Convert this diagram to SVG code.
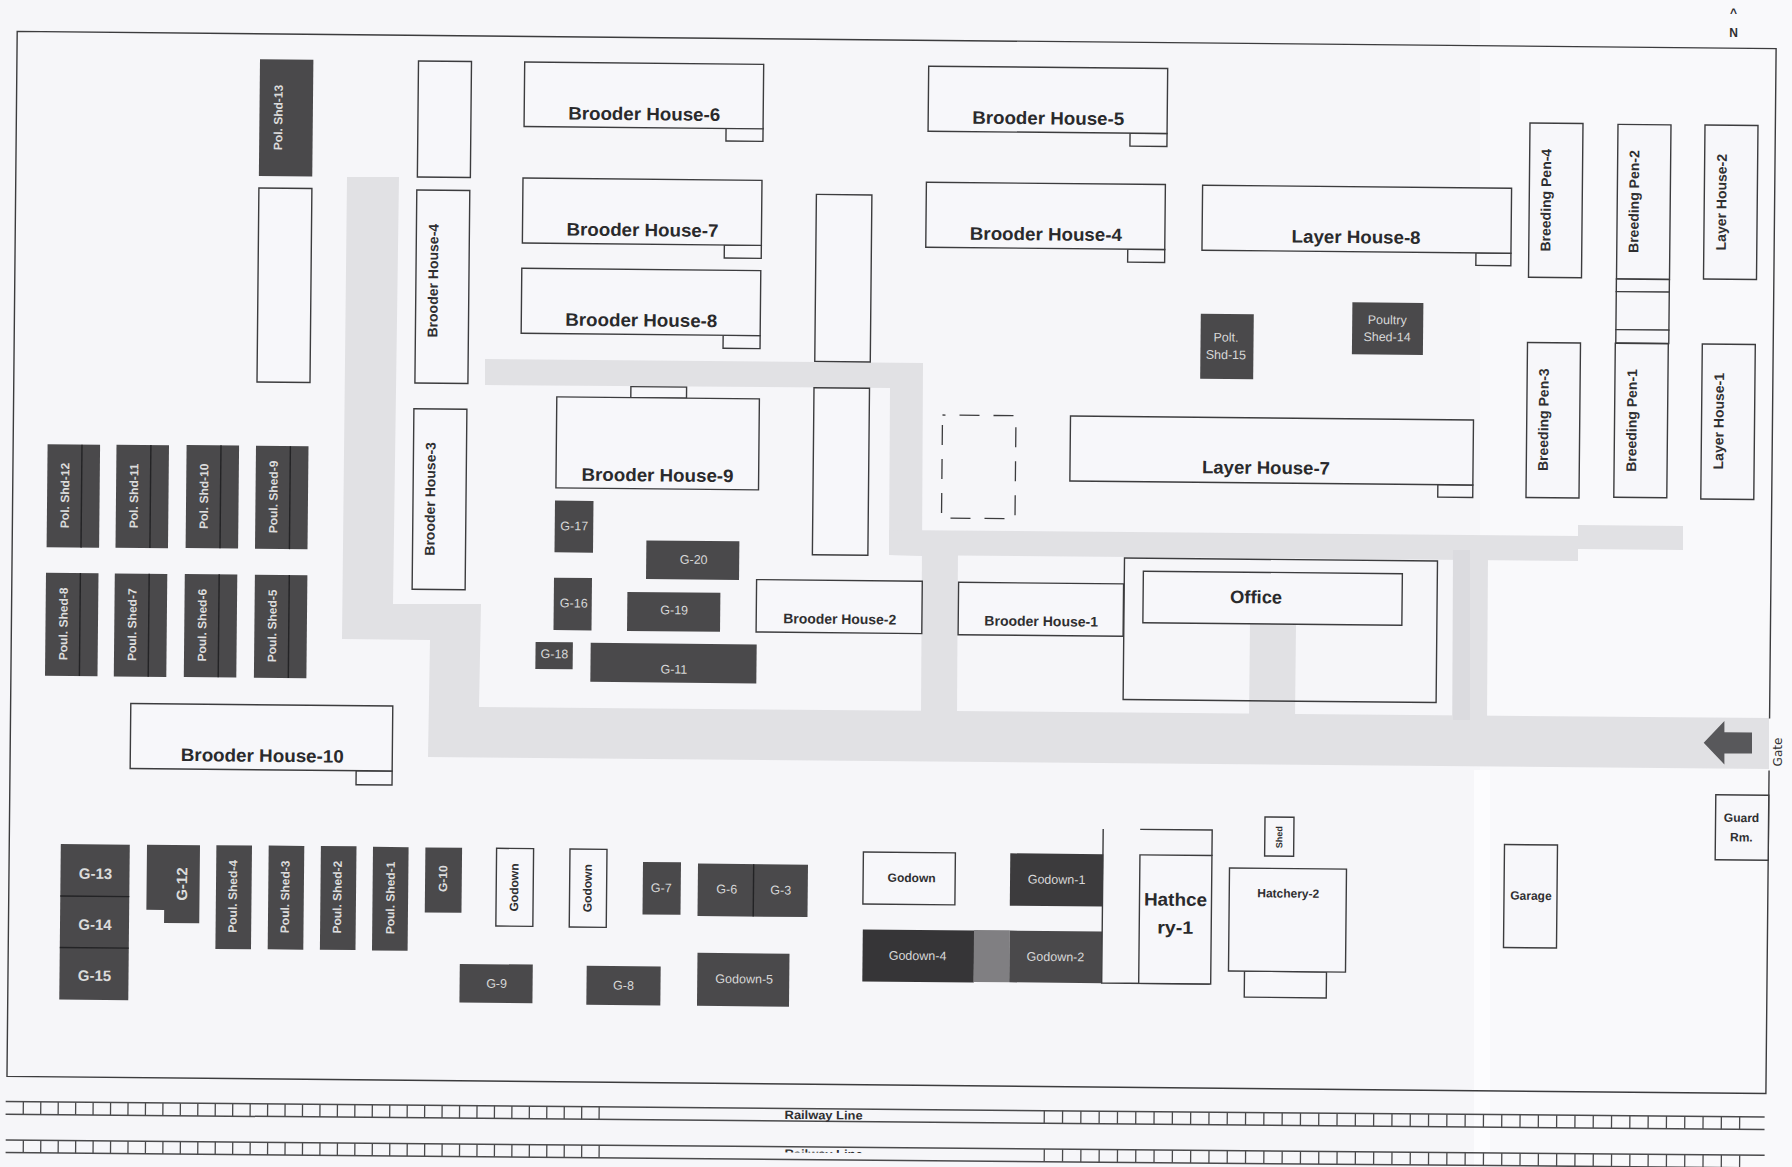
<svg xmlns="http://www.w3.org/2000/svg" width="1792" height="1167" viewBox="0 0 1792 1167">
<style>
text{font-family:"Liberation Sans",Arial,sans-serif;text-anchor:middle;dominant-baseline:central}
.w{fill:#f7f7fa;stroke:#3c3c3e;stroke-width:1.4}
.n{fill:none;stroke:#3c3c3e;stroke-width:1.4}
.d{fill:#4a494b}
.dv{stroke:#232325;stroke-width:1.4;fill:none}
.road{fill:#e1e1e4}
.b18{font-size:18px;font-weight:700;fill:#2a2a2c}
.b14{font-size:14px;font-weight:700;fill:#2f2f31}
.b12{font-size:12px;font-weight:700;fill:#2f2f31}
.l12{font-size:12px;font-weight:700;fill:#dcdcdc}
.g12{font-size:12.5px;fill:#d8d8d8}
.g15{font-size:15px;font-weight:700;fill:#dcdcdc}
.rail{stroke:#4a4a4c;stroke-width:1.5;fill:none}
.tick{stroke:#4a4a4c;stroke-width:12.6;fill:none;stroke-dasharray:1.3 16.15}
.tick2{stroke:#4a4a4c;stroke-width:12.6;fill:none;stroke-dasharray:1.3 17}
</style>
<defs>
<clipPath id="railclip"><rect x="760" y="1" width="120" height="4.5"/></clipPath>
</defs>
<rect width="1792" height="1167" fill="#f6f6f9"/>
<rect x="1480" width="312" height="1167" fill="#f9f9fb"/>
<rect x="1474" y="770" width="16" height="397" fill="#fcfcfe"/>

<g id="roads">
<polygon class="road" points="347,177 399,177 393,604 481,604 479,707 1769,718 1769,769 428,757 430,640 342,639"/>
<polygon class="road" points="485,359 923,363 922,556 889,555 890,388 485,385"/>
<polygon class="road" points="889,530 1578,536 1578,525 1683,526 1683,550 1578,549 1578,561 889,555"/>
<polygon class="road" points="922,545 958,545 957,715 921,715"/>
<polygon class="road" points="1250,622 1296,623 1295,720 1249,720"/>
<polygon class="road" points="1453,550 1488,550 1487,722 1452,722"/>
<rect x="1453" y="550" width="17" height="170" fill="#dbdbdf"/>
</g>

<g id="site-boundary" transform="translate(17.2 31.4) rotate(.56)"><path class="n" d="M1759 670V0H0V1045H1759V722"/></g>
<g id="north"><text class="b12" x="1733.6" y="12.6">^</text><text class="b12" x="1733.6" y="33">N</text></g>

<g id="pol-shd-13" transform="translate(260 59.3) rotate(.56)"><rect class="d" width="53.4" height="116.7"/><text class="l12" transform="translate(19 58) rotate(-90)">Pol. Shd-13</text></g>
<g id="blank-1" transform="translate(258.9 188) rotate(.56)"><rect class="w" width="53" height="194"/></g>
<g id="blank-2" transform="translate(418.5 61) rotate(.56)"><rect class="w" width="53" height="116"/></g>
<g id="brooder-4v" transform="translate(416.8 190) rotate(.56)"><rect class="w" width="53" height="193"/><text class="b14" transform="translate(17 90.5) rotate(-90)">Brooder House-4</text></g>
<g id="brooder-3" transform="translate(413.9 408.7) rotate(.56)"><rect class="w" width="53" height="180.6"/><text class="b14" transform="translate(17 90) rotate(-90)">Brooder House-3</text></g>

<g id="brooder-6" transform="translate(524.7 62) rotate(.56)"><rect class="w" x="202" y="64" width="37" height="13"/><rect class="w" width="239" height="64.5"/><text class="b18" x="120" y="51" textLength="152" lengthAdjust="spacingAndGlyphs">Brooder House-6</text></g>
<g id="brooder-7" transform="translate(523 178) rotate(.56)"><rect class="w" x="202" y="65" width="37" height="13"/><rect class="w" width="239" height="65"/><text class="b18" x="120" y="51" textLength="152" lengthAdjust="spacingAndGlyphs">Brooder House-7</text></g>
<g id="brooder-8" transform="translate(521.8 268.3) rotate(.56)"><rect class="w" x="202" y="65" width="37" height="13"/><rect class="w" width="239" height="65"/><text class="b18" x="120" y="51" textLength="152" lengthAdjust="spacingAndGlyphs">Brooder House-8</text></g>
<g id="brooder-5" transform="translate(928.7 66.2) rotate(.56)"><rect class="w" x="202" y="65" width="37" height="13"/><rect class="w" width="239" height="65"/><text class="b18" x="120" y="51" textLength="152" lengthAdjust="spacingAndGlyphs">Brooder House-5</text></g>
<g id="brooder-4" transform="translate(926.4 182.2) rotate(.56)"><rect class="w" x="202" y="65" width="37" height="13"/><rect class="w" width="239" height="65"/><text class="b18" x="120" y="51" textLength="152" lengthAdjust="spacingAndGlyphs">Brooder House-4</text></g>
<g id="layer-8" transform="translate(1202.6 185.2) rotate(.56)"><rect class="w" x="274" y="65" width="35" height="12.5"/><rect class="w" width="309" height="65"/><text class="b18" x="154" y="50.5" textLength="129" lengthAdjust="spacingAndGlyphs">Layer House-8</text></g>
<g id="layer-7" transform="translate(1070.5 416) rotate(.56)"><rect class="w" x="368" y="65" width="35" height="12.5"/><rect class="w" width="403" height="65"/><text class="b18" x="196" y="50" textLength="128" lengthAdjust="spacingAndGlyphs">Layer House-7</text></g>
<g id="brooder-9" transform="translate(556.8 396.9) rotate(.56)"><rect class="w" x="74" y="-11" width="55.7" height="11"/><rect class="w" width="202.6" height="91"/><text class="b18" x="101.5" y="77.5" textLength="152" lengthAdjust="spacingAndGlyphs">Brooder House-9</text></g>
<g id="blank-3" transform="translate(816.4 194.4) rotate(.56)"><rect class="w" width="55.5" height="167"/></g>
<g id="blank-4" transform="translate(814 387.7) rotate(.56)"><rect class="w" width="55.5" height="167"/></g>

<g id="pol-shd-12" transform="translate(47.6 444.3) rotate(.56)"><rect class="d" width="52.5" height="103"/><path class="dv" d="M34.4 0V103"/><text class="l12" transform="translate(18 51) rotate(-90)">Pol. Shd-12</text></g>
<g id="pol-shd-11" transform="translate(116.5 444.7) rotate(.56)"><rect class="d" width="52.5" height="103"/><path class="dv" d="M34.4 0V103"/><text class="l12" transform="translate(18 51) rotate(-90)">Pol. Shd-11</text></g>
<g id="pol-shd-10" transform="translate(186.6 445) rotate(.56)"><rect class="d" width="52.5" height="103"/><path class="dv" d="M34.4 0V103"/><text class="l12" transform="translate(18 51) rotate(-90)">Pol. Shd-10</text></g>
<g id="poul-shed-9" transform="translate(256 445.8) rotate(.56)"><rect class="d" width="52.5" height="103"/><path class="dv" d="M34.4 0V103"/><text class="l12" transform="translate(18 51) rotate(-90)">Poul. Shed-9</text></g>
<g id="poul-shed-8" transform="translate(46 572.7) rotate(.56)"><rect class="d" width="52.5" height="103"/><path class="dv" d="M34.4 0V103"/><text class="l12" transform="translate(18 51) rotate(-90)">Poul. Shed-8</text></g>
<g id="poul-shed-7" transform="translate(114.8 573.5) rotate(.56)"><rect class="d" width="52.5" height="103"/><path class="dv" d="M34.4 0V103"/><text class="l12" transform="translate(18 51) rotate(-90)">Poul. Shed-7</text></g>
<g id="poul-shed-6" transform="translate(184.8 574) rotate(.56)"><rect class="d" width="52.5" height="103"/><path class="dv" d="M34.4 0V103"/><text class="l12" transform="translate(18 51) rotate(-90)">Poul. Shed-6</text></g>
<g id="poul-shed-5" transform="translate(254.9 574.7) rotate(.56)"><rect class="d" width="52.5" height="103"/><path class="dv" d="M34.4 0V103"/><text class="l12" transform="translate(18 51) rotate(-90)">Poul. Shed-5</text></g>

<g id="g-17" transform="translate(555 500.6) rotate(.56)"><rect class="d" width="38.5" height="51.7"/><text class="g12" x="19.5" y="25.5">G-17</text></g>
<g id="g-20" transform="translate(646.4 540.4) rotate(.56)"><rect class="d" width="93" height="38.7"/><text class="g12" x="47.5" y="19">G-20</text></g>
<g id="g-16" transform="translate(554 577.7) rotate(.56)"><rect class="d" width="38" height="52.4"/><text class="g12" x="20" y="25.5">G-16</text></g>
<g id="g-19" transform="translate(627.4 591.9) rotate(.56)"><rect class="d" width="93" height="39"/><text class="g12" x="47" y="18">G-19</text></g>
<g id="g-18" transform="translate(535.6 642) rotate(.56)"><rect class="d" width="37.3" height="27"/><text class="g12" x="19" y="12">G-18</text></g>
<g id="g-11" transform="translate(590.7 642.8) rotate(.56)"><rect class="d" width="166" height="39"/><text class="g12" x="83.5" y="26">G-11</text></g>
<g id="brooder-2" transform="translate(756.6 579.6) rotate(.56)"><rect class="w" width="165.7" height="52.4"/><text class="b14" x="83.5" y="38.5" textLength="113" lengthAdjust="spacingAndGlyphs">Brooder House-2</text></g>
<g id="brooder-1" transform="translate(958.6 582.3) rotate(.56)"><rect class="w" width="165" height="52.4"/><text class="b14" x="83" y="38" textLength="113.6" lengthAdjust="spacingAndGlyphs">Brooder House-1</text></g>
<g id="office" transform="translate(1124.5 558) rotate(.56)"><rect class="n" width="313" height="141.5"/><rect class="w" x="19" y="13" width="259" height="51.5"/><text class="b18" x="132" y="38" textLength="52" lengthAdjust="spacingAndGlyphs">Office</text></g>

<g id="polt-shd-15" transform="translate(1200.8 313.8) rotate(.56)"><rect class="d" width="53" height="65"/><text class="g12" x="25.5" y="23.5">Polt.</text><text class="g12" x="25.5" y="41">Shd-15</text></g>
<g id="poultry-shed-14" transform="translate(1352.4 302.3) rotate(.56)"><rect class="d" width="71" height="52"/><text class="g12" x="35" y="17.5">Poultry</text><text class="g12" x="35" y="34.5">Shed-14</text></g>
<g id="dashed-plot" transform="translate(942.5 415) rotate(.56)"><rect width="73.5" height="103" fill="none" stroke="#3c3c3e" stroke-width="1.3" stroke-dasharray="20 14" stroke-dashoffset="-17"/></g>

<g id="breeding-pen-4" transform="translate(1530 123) rotate(.56)"><rect class="w" width="53" height="154.2"/><text class="b14" transform="translate(16.5 77) rotate(-90)">Breeding Pen-4</text></g>
<g id="breeding-pen-3" transform="translate(1527.5 342.5) rotate(.56)"><rect class="w" width="53" height="155"/><text class="b14" transform="translate(16.5 77) rotate(-90)">Breeding Pen-3</text></g>
<g id="breeding-pen-2" transform="translate(1618 124.4) rotate(.56)"><rect class="w" width="53" height="154.6"/><text class="b14" transform="translate(16.5 77) rotate(-90)">Breeding Pen-2</text></g>
<g id="breeding-link" transform="translate(1616.4 279) rotate(.56)"><rect class="w" width="53" height="12.6"/><rect class="w" y="12.6" width="53" height="38"/><rect class="w" y="50.6" width="53" height="13.4"/></g>
<g id="breeding-pen-1" transform="translate(1615.3 343.3) rotate(.56)"><rect class="w" width="53" height="154"/><text class="b14" transform="translate(17 77) rotate(-90)">Breeding Pen-1</text></g>
<g id="layer-2" transform="translate(1705 125) rotate(.56)"><rect class="w" width="53" height="154"/><text class="b14" transform="translate(17 77) rotate(-90)">Layer House-2</text></g>
<g id="layer-1" transform="translate(1702.3 344) rotate(.56)"><rect class="w" width="53" height="155"/><text class="b14" transform="translate(17 77) rotate(-90)">Layer House-1</text></g>

<g id="brooder-10" transform="translate(130.8 703.5) rotate(.56)"><rect class="w" x="226" y="65" width="36" height="14"/><rect class="w" width="262" height="65"/><text class="b18" x="132" y="51" textLength="163" lengthAdjust="spacingAndGlyphs">Brooder House-10</text></g>

<g id="g-13-15" transform="translate(60.8 844) rotate(.56)"><rect class="d" width="69" height="155.5"/><path class="dv" d="M0 52H69M0 103.5H69"/><text class="g15" x="35" y="29">G-13</text><text class="g15" x="35" y="80">G-14</text><text class="g15" x="35" y="131">G-15</text></g>
<g id="g-12" transform="translate(147 844.8) rotate(.56)"><path class="d" d="M0 0H53V78H17.8V65H0Z"/><text class="g15" transform="translate(35 39) rotate(-90)">G-12</text></g>
<g id="poul-shed-4" transform="translate(216.4 845.2) rotate(.56)"><rect class="d" width="35.6" height="103.7"/><text class="l12" transform="translate(17 51) rotate(-90)">Poul. Shed-4</text></g>
<g id="poul-shed-3" transform="translate(268.7 845.6) rotate(.56)"><rect class="d" width="35.6" height="103.7"/><text class="l12" transform="translate(17 51) rotate(-90)">Poul. Shed-3</text></g>
<g id="poul-shed-2" transform="translate(320.9 846) rotate(.56)"><rect class="d" width="35.6" height="103.7"/><text class="l12" transform="translate(17 51) rotate(-90)">Poul. Shed-2</text></g>
<g id="poul-shed-1" transform="translate(373 846.8) rotate(.56)"><rect class="d" width="35.6" height="103.7"/><text class="l12" transform="translate(18 51) rotate(-90)">Poul. Shed-1</text></g>
<g id="g-10" transform="translate(425.4 847.5) rotate(.56)"><rect class="d" width="36.7" height="65"/><text class="l12" transform="translate(18 31) rotate(-90)">G-10</text></g>
<g id="godown-a" transform="translate(496.6 848.3) rotate(.56)"><rect class="w" width="37" height="77.7"/><text class="b12" transform="translate(18 39) rotate(-90)">Godown</text></g>
<g id="godown-b" transform="translate(570 849) rotate(.56)"><rect class="w" width="37" height="78"/><text class="b12" transform="translate(18 39) rotate(-90)">Godown</text></g>
<g id="g-7" transform="translate(643 862) rotate(.56)"><rect class="d" width="38" height="52.4"/><text class="g12" x="18.5" y="26">G-7</text></g>
<g id="g-6-3" transform="translate(698 863.6) rotate(.56)"><rect class="d" width="110" height="52.4"/><path class="dv" d="M55.7 0V52.4"/><text class="g12" x="29" y="25.5">G-6</text><text class="g12" x="83" y="26">G-3</text></g>
<g id="g-9" transform="translate(459.8 963.9) rotate(.56)"><rect class="d" width="73" height="38.7"/><text class="g12" x="37" y="19.5">G-9</text></g>
<g id="g-8" transform="translate(586.7 965.8) rotate(.56)"><rect class="d" width="74" height="39"/><text class="g12" x="37" y="19.5">G-8</text></g>
<g id="godown-5" transform="translate(697.5 952.8) rotate(.56)"><rect class="d" width="92" height="53"/><text class="g12" x="47" y="26">Godown-5</text></g>
<g id="godown-c" transform="translate(863.4 852) rotate(.56)"><rect class="w" width="92" height="52"/><text class="b12" x="48.5" y="25.5">Godown</text></g>
<g id="godown-1" transform="translate(1010.3 853.3) rotate(.56)"><rect width="93" height="52.4" fill="#3c3b3d"/><text class="g12" x="46.5" y="26">Godown-1</text></g>
<g id="godown-4" transform="translate(862.8 929.4) rotate(.56)"><rect width="111.5" height="52" fill="#363537"/><text class="g12" x="55" y="26">Godown-4</text></g>
<g id="store-grey" transform="translate(974 930) rotate(.56)"><rect width="35.7" height="52" fill="#807f82"/></g>
<g id="godown-2" transform="translate(1009.7 930.6) rotate(.56)"><rect class="d" width="92.4" height="51.7"/><text class="g12" x="46" y="26">Godown-2</text></g>

<g id="hatchery-1" transform="translate(1103.2 829) rotate(.56)"><path class="n" d="M0 0V154H108M37 0H109V26"/><rect class="w" x="37" y="25.5" width="72" height="128.5"/><text class="b18" x="73" y="70" textLength="63" lengthAdjust="spacingAndGlyphs">Hathce</text><text class="b18" x="73" y="98" textLength="36" lengthAdjust="spacingAndGlyphs">ry-1</text></g>
<g id="shed" transform="translate(1265 817) rotate(.56)"><rect class="w" width="29" height="39"/><text transform="translate(14.5 20) rotate(-90)" font-size="9" font-weight="700" fill="#2f2f31">Shed</text></g>
<g id="hatchery-2" transform="translate(1229.5 868) rotate(.56)"><rect class="w" x="16" y="103" width="82" height="26"/><rect class="w" width="117" height="103"/><text class="b12" x="59" y="25" textLength="62" lengthAdjust="spacingAndGlyphs">Hatchery-2</text></g>
<g id="garage" transform="translate(1504.5 844.5) rotate(.56)"><rect class="w" width="53" height="103"/><text class="b12" x="27" y="51">Garage</text></g>
<g id="guard-room" transform="translate(1715.8 794.7) rotate(.56)"><rect class="w" width="53" height="65"/><text class="b12" x="26" y="23">Guard</text><text class="b12" x="26" y="42.5">Rm.</text></g>

<g id="gate"><polygon points="1703.7,742.7 1724.4,721 1724.4,732.3 1752,732.6 1752,753.6 1724.4,753.4 1724.4,764.5" fill="#58585b"/><text transform="translate(1778.4 752) rotate(-90)" font-size="12" fill="#333" style="font-family:'DejaVu Sans',sans-serif">Gate</text></g>

<g id="railway-1" transform="translate(5.7 1101.6) rotate(.5)"><path class="rail" d="M0 0H1759M0 12.6H1759"/><path class="tick" d="M17 6.3H598"/><path class="tick2" d="M1038 6.3H1741"/><text class="b12" x="818" y="6.5" font-size="13" textLength="78" lengthAdjust="spacingAndGlyphs">Railway Line</text></g>
<g id="railway-2" transform="translate(5.7 1140) rotate(.5)"><path class="rail" d="M0 0H1759M0 12.6H1759"/><path class="tick" d="M17 6.3H598"/><path class="tick2" d="M1038 6.3H1741"/><g clip-path="url(#railclip)"><text class="b12" x="818" y="7" textLength="78" lengthAdjust="spacingAndGlyphs">Railway Line</text></g></g>
</svg>
